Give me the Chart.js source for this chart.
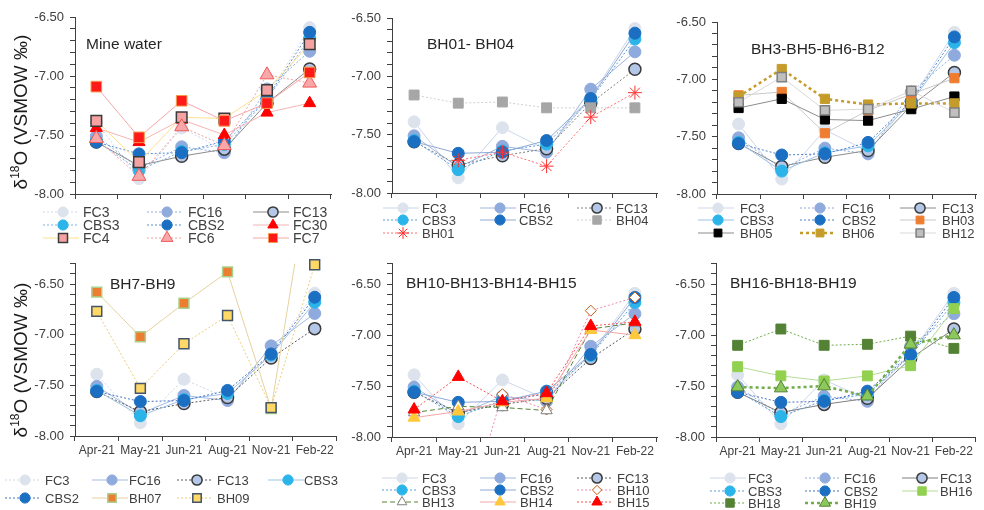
<!DOCTYPE html>
<html>
<head>
<meta charset="utf-8">
<script src="https://cdn.jsdelivr.net/npm/chart.js@4.4.0/dist/chart.umd.min.js"></script>
<style>
  body { margin: 0; background: #fff; width: 984px; height: 510px; overflow: hidden; position: relative; }
  canvas { position: absolute; }
</style>
</head>
<body>
<canvas id="c1" width="340" height="250" style="left:0;top:0"></canvas>
<canvas id="c2" width="325" height="250" style="left:340px;top:0"></canvas>
<canvas id="c3" width="319" height="250" style="left:665px;top:0"></canvas>
<canvas id="c4" width="345" height="260" style="left:0;top:250px"></canvas>
<canvas id="c5" width="325" height="260" style="left:340px;top:250px"></canvas>
<canvas id="c6" width="319" height="260" style="left:665px;top:250px"></canvas>
<script>
// ---------- DATA ----------
const months = ['Apr-21', 'May-21', 'Jun-21', 'Aug-21', 'Nov-21', 'Feb-22'];
const yLabels = [-8.0, -7.5, -7.0, -6.5];

// reference points repeated on every panel
const FC3  = [-7.39, -7.87, -7.44, -7.63, -7.18, -6.59];
const FC16 = [-7.51, -7.78, -7.60, -7.65, -7.11, -6.79];
const FC13 = [-7.56, -7.76, -7.68, -7.62, -7.23, -6.94];
const CBS3 = [-7.55, -7.80, -7.64, -7.58, -7.20, -6.68];
const CBS2 = [-7.56, -7.66, -7.65, -7.55, -7.19, -6.63];

// mine water
const FC30 = [-7.44, -7.56, -7.37, -7.50, -7.31, -7.23];
const FC4  = [-7.38, -7.73, -7.35, -7.36, -7.12, -6.73];
const FC6  = [-7.53, -7.85, -7.43, -7.59, -6.99, -7.06];
const FC7  = [-7.09, -7.52, -7.21, -7.38, -7.23, -6.97];

// boreholes
const BH01 = [null, -7.72, -7.65, -7.77, -7.35, -7.14];
const BH04 = [-7.16, -7.23, -7.22, -7.27, -7.27, -7.27];
const BH03 = [-7.14, -7.11, -7.47, -7.27, -7.13, -6.99];
const BH05 = [-7.25, -7.17, -7.35, -7.36, -7.26, -7.15];
const BH06 = [-7.15, -6.91, -7.17, -7.22, -7.21, -7.21];
const BH12 = [-7.20, -6.98, -7.27, -7.26, -7.10, -7.29];
const BH07 = [-6.58, -7.02, -6.69, -6.38, -7.73, -5.10];
const BH09 = [-6.77, -7.53, -7.09, -6.81, -7.72, -6.31];
const BH10 = [null, -9.04, -7.58, -7.73, -6.76, -6.63];
const BH13 = [-7.76, -7.70, -7.71, -7.74, -6.94, -6.88];
const BH14 = [-7.81, -7.75, -7.66, -7.62, -6.95, -7.00];
const BH15 = [-7.73, -7.41, -7.65, -7.57, -6.91, -6.87];
const BH16 = [-7.31, -7.40, -7.45, -7.40, -7.30, -6.74];
const BH18 = [-7.10, -6.94, -7.10, -7.09, -7.01, -7.13];
const BH19 = [-7.51, -7.52, -7.50, -7.60, -7.09, -7.00];

const values = { FC3, FC16, FC13, CBS3, CBS2, FC30, FC4, FC6, FC7, BH01, BH04, BH03, BH05,
  BH06, BH12, BH07, BH09, BH10, BH13, BH14, BH15, BH16, BH18, BH19 };

// ---------- STYLES ----------
const look = {
  FC3:  { shape: 'circle', r: 6, fill: '#dde3ec', edge: '#dde3ec' },
  FC16: { shape: 'circle', r: 6, fill: '#8faadc', edge: '#8faadc' },
  FC13: { shape: 'circle', r: 6, fill: '#b4c7e7', edge: '#3a3a3a', bw: 1.5 },
  CBS3: { shape: 'circle', r: 6, fill: '#2ab4ea', edge: '#2ab4ea' },
  CBS2: { shape: 'circle', r: 6, fill: '#1b6fc2', edge: '#1b6fc2' },
  FC30: { shape: 'triangle', r: 7, fill: '#ff0000', edge: '#ff0000' },
  FC4:  { shape: 'rect', r: 7.5, fill: '#f4a2a2', edge: '#3a3a3a', bw: 1.5 },
  FC6:  { shape: 'triangle', r: 8, fill: '#f8a8a8', edge: '#f25a5a', bw: 1 },
  FC7:  { shape: 'rect', r: 7.5, fill: '#ff1a1a', edge: '#f49a4c', bw: 1 },
  BH01: { shape: 'star', r: 7, fill: '#ff3030', edge: '#ff3030', bw: 1 },
  BH04: { shape: 'rect', r: 7, fill: '#a6a6a6', edge: '#a6a6a6' },
  BH03: { shape: 'rect', r: 6.5, fill: '#ef7d30', edge: '#ef7d30' },
  BH05: { shape: 'rect', r: 6.5, fill: '#000000', edge: '#000000' },
  BH06: { shape: 'rect', r: 6.5, fill: '#c59c2a', edge: '#c59c2a' },
  BH12: { shape: 'rect', r: 6.5, fill: '#bfbfbf', edge: '#7f7f7f', bw: 1.5 },
  BH07: { shape: 'rect', r: 7, fill: '#ed7d31', edge: '#a9d18e', bw: 1.5 },
  BH09: { shape: 'rect', r: 7, fill: '#ffd966', edge: '#44546a', bw: 1.5 },
  BH10: { shape: 'rectRot', r: 5.5, fill: '#ffffff', edge: '#c55a11', bw: 1 },
  BH13: { shape: 'triangle', r: 6.5, fill: '#ffffff', edge: '#7f7f7f', bw: 1 },
  BH14: { shape: 'triangle', r: 7, fill: '#ffc83a', edge: '#ffc83a' },
  BH15: { shape: 'triangle', r: 7, fill: '#ff0000', edge: '#ff0000' },
  BH16: { shape: 'rect', r: 7, fill: '#92d050', edge: '#92d050' },
  BH18: { shape: 'rect', r: 7, fill: '#548235', edge: '#548235' },
  BH19: { shape: 'triangle', r: 7.5, fill: '#8cc85a', edge: '#548235', bw: 1 }
};
const dash = { solid: [], dot: [2, 2], dash: [5, 3], bold: [3, 3] };
const FONT = '"Liberation Sans", Arial, sans-serif';

const panels = [
  { id: 'c1', title: 'Mine water', tx: 86, ty: 45, ymax: -6.5, yTitle: 112, pad: 17, padR: 1, yw: 75, xh: 56,
    bottom: false, lf: 14, cols: [63, 167, 273], rows: [212, 225, 238], tdx: [20, 21, 20],
    series: [['FC3', '#cdd7ea', 'dot'], ['FC16', '#8faadc', 'dot'], ['FC13', '#8c8c8c', 'solid'],
      ['CBS3', '#7fb2e0', 'dot'], ['CBS2', '#5b8fd0', 'dot'], ['FC30', '#f7b4b4', 'solid'],
      ['FC4', '#ffe08a', 'solid'], ['FC6', '#f4a0a0', 'dot'], ['FC7', '#f6a8a8', 'solid']] },
  { id: 'c2', title: 'BH01- BH04', tx: 87, ty: 45, ymax: -6.5, pad: 18, padR: 5, yw: 52, xh: 57,
    bottom: false, lf: 13, cols: [63, 160, 257], rows: [208, 220, 233], tdx: [19, 19, 19],
    series: [['FC3', '#c9d5ea', 'solid'], ['FC16', '#9fb5dd', 'solid'], ['FC13', '#7f7f7f', 'dot'],
      ['CBS3', '#5b9bd5', 'dot'], ['CBS2', '#8fa9d6', 'solid'], ['BH04', '#cfcfcf', 'dot'],
      ['BH01', '#ff7070', 'dot']] },
  { id: 'c3', title: 'BH3-BH5-BH6-B12', tx: 86, ty: 50, ymax: -6.5, pad: 22, padR: 1, yw: 52, xh: 56,
    bottom: false, lf: 13, cols: [53, 155, 255], rows: [208, 220, 233], tdx: [22, 22, 22],
    series: [['FC3', '#cdd7ea', 'solid'], ['FC16', '#8faadc', 'dot'], ['FC13', '#8c8c8c', 'solid'],
      ['CBS3', '#9dc3e6', 'solid'], ['CBS2', '#4f81c7', 'dot'], ['BH03', '#c8c8c8', 'solid'],
      ['BH05', '#8c8c8c', 'solid'], ['BH06', '#c59c2a', 'bold', 2.5], ['BH12', '#d9d9d9', 'solid']] },
  { id: 'c4', title: 'BH7-BH9', tx: 110, ty: 35, ymax: -6.3, yTitle: 110, pad: 12, padR: 6, yw: 75, xh: 74,
    bottom: true, lf: 13, cols: [25, 112, 197, 288], rows: [230, 248], tdx: [20, 17, 20, 16],
    series: [['FC3', '#cdd7ea', 'dot'], ['FC16', '#a4b9df', 'solid'], ['FC13', '#595959', 'dot'],
      ['CBS3', '#9dc3e6', 'solid'], ['CBS2', '#4472c4', 'dot'], ['BH07', '#e6d2a0', 'solid'],
      ['BH09', '#e9cd7a', 'dot']] },
  { id: 'c5', title: 'BH10-BH13-BH14-BH15', tx: 66, ty: 34, ymax: -6.3, pad: 10, padR: 5, yw: 52, xh: 73,
    bottom: true, lf: 13, cols: [62, 160, 257], rows: [228, 240, 252], tdx: [20, 20, 20],
    series: [['FC3', '#cdd7ea', 'solid'], ['FC16', '#a4b9df', 'solid'], ['FC13', '#595959', 'dot'],
      ['CBS3', '#5b9bd5', 'dot'], ['CBS2', '#8fa9d6', 'solid'], ['BH10', '#f08cb0', 'dot'],
      ['BH13', '#548235', 'dash'], ['BH14', '#f4a6a6', 'solid'], ['BH15', '#ff5050', 'dot']] },
  { id: 'c6', title: 'BH16-BH18-BH19', tx: 65, ty: 34, ymax: -6.3, pad: 10, padR: 1, yw: 51, xh: 73,
    bottom: true, lf: 13, cols: [65, 160, 257], rows: [228, 241, 253], tdx: [18, 19, 18],
    series: [['FC3', '#cdd7ea', 'solid'], ['FC16', '#8faadc', 'dot'], ['FC13', '#7f7f7f', 'solid'],
      ['CBS3', '#5b9bd5', 'dot'], ['CBS2', '#4472c4', 'dot'], ['BH16', '#b4dc96', 'solid'],
      ['BH18', '#70ad47', 'dot'], ['BH19', '#70ad47', 'bold', 2.5]] }
];

// ---------- DRAW HELPERS ----------
function marker(ctx, k, x, y, scale) {
  const r = k.r * scale;
  ctx.beginPath();
  if (k.shape === 'circle') {
    ctx.arc(x, y, r, 0, Math.PI * 2);
  } else if (k.shape === 'rect') {
    const s = r * Math.SQRT1_2;
    ctx.rect(x - s, y - s, 2 * s, 2 * s);
  } else if (k.shape === 'rectRot') {
    ctx.moveTo(x - r, y); ctx.lineTo(x, y - r); ctx.lineTo(x + r, y); ctx.lineTo(x, y + r); ctx.closePath();
  } else if (k.shape === 'triangle') {
    ctx.moveTo(x, y - r); ctx.lineTo(x + 0.866 * r, y + r / 2); ctx.lineTo(x - 0.866 * r, y + r / 2); ctx.closePath();
  } else if (k.shape === 'star') {
    const d = r * Math.SQRT1_2;
    ctx.moveTo(x, y - r); ctx.lineTo(x, y + r);
    ctx.moveTo(x - r, y); ctx.lineTo(x + r, y);
    ctx.moveTo(x - d, y - d); ctx.lineTo(x + d, y + d);
    ctx.moveTo(x - d, y + d); ctx.lineTo(x + d, y - d);
  }
  ctx.setLineDash([]);
  ctx.fillStyle = k.fill;
  ctx.strokeStyle = k.edge;
  ctx.lineWidth = k.bw || 1;
  if (k.shape !== 'star') ctx.fill();
  ctx.stroke();
}

function decorate(chart, p) {
  const ctx = chart.ctx;
  ctx.save();
  ctx.fillStyle = '#262626';
  ctx.textBaseline = 'middle';
  ctx.textAlign = 'left';
  ctx.font = '15.5px ' + FONT;
  ctx.fillText(p.title, p.tx, p.ty);

  if (p.yTitle) {
    const big = '19px ' + FONT, small = '12px ' + FONT;
    ctx.font = big;
    const w1 = ctx.measureText('\u03b4').width, w3 = ctx.measureText('O (VSMOW \u2030)').width;
    ctx.font = small;
    const w2 = ctx.measureText('18').width;
    const total = w1 + w2 + w3;
    ctx.translate(27, p.yTitle);
    ctx.rotate(-Math.PI / 2);
    ctx.textBaseline = 'alphabetic';
    ctx.fillStyle = '#1a1a1a';
    let x = -total / 2;
    ctx.font = big; ctx.fillText('\u03b4', x, 0); x += w1;
    ctx.font = small; ctx.fillText('18', x, -8); x += w2;
    ctx.font = big; ctx.fillText('O (VSMOW \u2030)', x, 0);
    ctx.setTransform(1, 0, 0, 1, 0, 0);
  }

  // legend, row by row
  ctx.font = p.lf + 'px ' + FONT;
  ctx.textBaseline = 'middle';
  p.series.forEach(([name, color, style, width], i) => {
    const c = i % p.cols.length;
    const x = p.cols[c];
    const y = p.rows[Math.floor(i / p.cols.length)];
    ctx.beginPath();
    ctx.setLineDash(dash[style]);
    ctx.strokeStyle = color;
    ctx.lineWidth = width || 1;
    ctx.moveTo(x - 20, y); ctx.lineTo(x + 16, y);
    ctx.stroke();
    marker(ctx, look[name], x, y, 0.85);
    ctx.fillStyle = '#404040';
    ctx.fillText(name, x + p.tdx[c], y + 1);
  });
  ctx.restore();
}

// ---------- CHARTS ----------
panels.forEach(p => {
  const n = p.series.length;
  const datasets = p.series.map(([name, color, style, width], i) => {
    const k = look[name];
    const ds = {
      label: name,
      data: values[name],
      borderColor: color,
      borderWidth: width || 1,
      borderDash: dash[style],
      pointStyle: k.shape,
      pointRadius: k.r,
      pointHoverRadius: k.r,
      pointBackgroundColor: k.fill,
      pointBorderColor: k.edge,
      pointBorderWidth: k.bw || 1,
      tension: 0,
      spanGaps: false,
      order: n - 1 - i
    };
    if (name === 'BH09') ds.clip = { left: 10, right: 10, top: 10, bottom: 10 };
    return ds;
  });

  new Chart(document.getElementById(p.id), {
    type: 'line',
    data: { labels: months, datasets },
    options: {
      responsive: false,
      animation: false,
      events: [],
      layout: { padding: { top: p.pad, right: p.padR, left: 0, bottom: 0 } },
      plugins: { legend: { display: false }, tooltip: { enabled: false }, title: { display: false } },
      scales: {
        x: {
          type: 'category',
          offset: true,
          grid: { offset: true, drawOnChartArea: false, tickLength: 5, color: '#404040' },
          border: { color: '#404040', width: 1 },
          ticks: {
            display: p.bottom, autoSkip: false, maxRotation: 0, padding: 2,
            color: '#404040', font: { family: FONT, size: 12 }
          },
          afterFit: s => { s.height = p.xh; }
        },
        y: {
          min: -8, max: p.ymax,
          grid: { drawOnChartArea: false, tickLength: 5, color: '#404040' },
          border: { color: '#404040', width: 1 },
          ticks: {
            stepSize: 0.1, autoSkip: false, maxTicksLimit: 100, padding: 6,
            color: '#404040', font: { family: FONT, size: 13 },
            callback: v => yLabels.some(m => Math.abs(m - v) < 1e-6) ? v.toFixed(2) : ''
          },
          afterFit: s => { s.width = p.yw; }
        }
      }
    },
    plugins: [{ id: 'decor', afterDraw: chart => decorate(chart, p) }]
  });
});
</script>
</body>
</html>
